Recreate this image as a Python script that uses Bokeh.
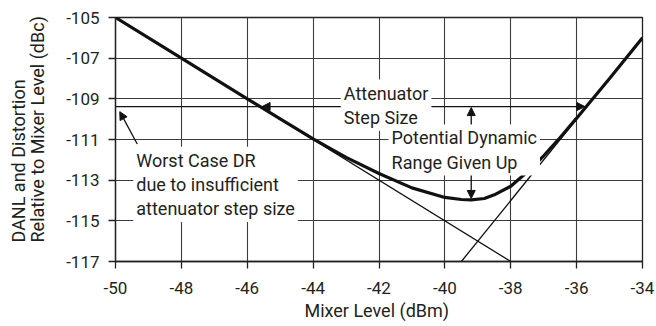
from bokeh.plotting import figure
from bokeh.models import Range1d, FixedTicker, Label, Arrow, NormalHead, Title
from bokeh.embed import file_html
from bokeh.resources import INLINE

# ---- data ----
x_ticks = [-50, -48, -46, -44, -42, -40, -38, -36, -34]
x_tick_labels = ["-50", "-48", "-46", "-44", "-42", "-40", "-38", "-36", "-34"]
y_ticks = [-117, -115, -113, -111, -109, -107, -105]
y_tick_labels = ["-117", "-115", "-113", "-111", "-109", "-107", "-105"]

danl_x = [-50, -38]
danl_y = [-105, -117]

dist_x = [-39.5, -34]
dist_y = [-117, -106]

total_x = [-50, -48, -46, -45, -44, -43, -42, -41, -40, -39.5, -39.2, -38.8,
           -38.5, -38, -37.5, -37, -36.5, -36, -35, -34]
total_y = [-105, -107, -109, -109.98, -110.97, -111.88, -112.67, -113.38, -113.85,
           -113.95, -113.97, -113.9, -113.72, -113.3, -112.6, -111.8, -110.9,
           -109.95, -108, -106]

step_level = -109.38          # attenuator step line
step_left_x = -45.55          # where it meets DANL
step_right_x = -35.75         # where it meets distortion
step_mid_x = -41.5
given_up_x = -39.2
given_up_top = -109.43
given_up_bottom = -113.9

FONT = "Roboto"
TXT = "#231f20"
GRID = "#3c3c3c"

p = figure(width=656, height=325,
           x_range=Range1d(-50, -34), y_range=Range1d(-117, -105),
           output_backend="svg", toolbar_location=None,
           min_border_left=0, min_border_right=14,
           min_border_top=17, min_border_bottom=64)

p.background_fill_color = "white"
p.border_fill_color = "white"
p.outline_line_color = "#222222"
p.outline_line_width = 1.3

for ax in (p.xaxis[0], p.yaxis[0]):
    ax.axis_line_color = "#222222"
    ax.axis_line_width = 1.3
    ax.major_tick_line_color = "#222222"
    ax.major_tick_line_width = 1.3
    ax.major_tick_in = 0
    ax.major_tick_out = 7
    ax.minor_tick_line_color = None
    ax.major_label_text_font = FONT
    ax.major_label_text_font_size = "17px"
    ax.major_label_text_color = TXT

p.xaxis.ticker = FixedTicker(ticks=x_ticks)
p.yaxis.ticker = FixedTicker(ticks=y_ticks)
p.xaxis.major_label_overrides = {t: s for t, s in zip(x_ticks, x_tick_labels)}
p.yaxis.major_label_overrides = {t: s for t, s in zip(y_ticks, y_tick_labels)}
p.xaxis.major_label_standoff = 13
p.yaxis.major_label_standoff = 9
p.xaxis.axis_label = "Mixer  Level (dBm)"
p.xaxis.axis_label_text_font = FONT
p.xaxis.axis_label_text_font_size = "18px"
p.xaxis.axis_label_text_font_style = "normal"
p.xaxis.axis_label_text_color = TXT
p.xaxis.axis_label_standoff = 3

# blank spacer label to push the two-line title outward
p.yaxis.axis_label = " "
p.yaxis.axis_label_text_font_size = "1px"
p.yaxis.axis_label_standoff = 2

p.xgrid.ticker = FixedTicker(ticks=x_ticks)
p.ygrid.ticker = FixedTicker(ticks=y_ticks)
for g in (p.xgrid[0], p.ygrid[0]):
    g.grid_line_color = GRID
    g.grid_line_width = 1.1

# y-axis title in two lines, aligned at the bottom end
p.add_layout(Title(text="DANL and Distortion\nRelative to Mixer Level (dBc)",
                   text_font=FONT, text_font_size="18px", text_font_style="normal",
                   text_color=TXT, align="left", vertical_align="top",
                   offset=19, standoff=14, text_line_height=0.95), "left")

# curves
p.line(danl_x, danl_y, line_color="#111111", line_width=1.3)
p.line(dist_x, dist_y, line_color="#111111", line_width=1.3)
p.line(total_x, total_y, line_color="#111111", line_width=3.2)

head = dict(size=8, fill_color="#111111", line_color="#111111")

# attenuator step line
p.add_layout(Arrow(x_start=-50, y_start=step_level, x_end=step_left_x, y_end=step_level,
                   end=None, line_color="#111111", line_width=1.3))
p.add_layout(Arrow(x_start=step_mid_x, y_start=step_level, x_end=step_left_x, y_end=step_level,
                   end=NormalHead(**head), line_color="#111111", line_width=1.3))
p.add_layout(Arrow(x_start=step_mid_x, y_start=step_level, x_end=step_right_x, y_end=step_level,
                   end=NormalHead(**head), line_color="#111111", line_width=1.3))
# potential dynamic range given up
p.add_layout(Arrow(x_start=given_up_x, y_start=-110.41, x_end=given_up_x, y_end=given_up_top,
                   end=NormalHead(**head), line_color="#111111", line_width=1.3))
p.add_layout(Arrow(x_start=given_up_x, y_start=-112.67, x_end=given_up_x, y_end=given_up_bottom,
                   end=NormalHead(**head), line_color="#111111", line_width=1.3))
# worst case DR
p.add_layout(Arrow(x_start=-49.34, y_start=-111.22, x_end=-49.87, y_end=-109.63,
                   end=NormalHead(**head), line_color="#111111", line_width=1.3))

lab = dict(text_font=FONT, text_font_size="18px", text_color=TXT,
           text_align="left", text_baseline="top", text_line_height=1.15,
           background_fill_color="white", padding=3)

p.add_layout(Label(x=-49.46, y=-111.36, text="Worst Case DR\ndue to insufficient\nattenuator step size", **lab))
p.add_layout(Label(x=-43.16, y=-108.05, text="Attenuator\nStep Size", **lab))
p.add_layout(Label(x=-41.71, y=-110.26, text="Potential Dynamic\nRange Given Up", **lab))

open("out.html", "w").write(file_html(p, INLINE))
